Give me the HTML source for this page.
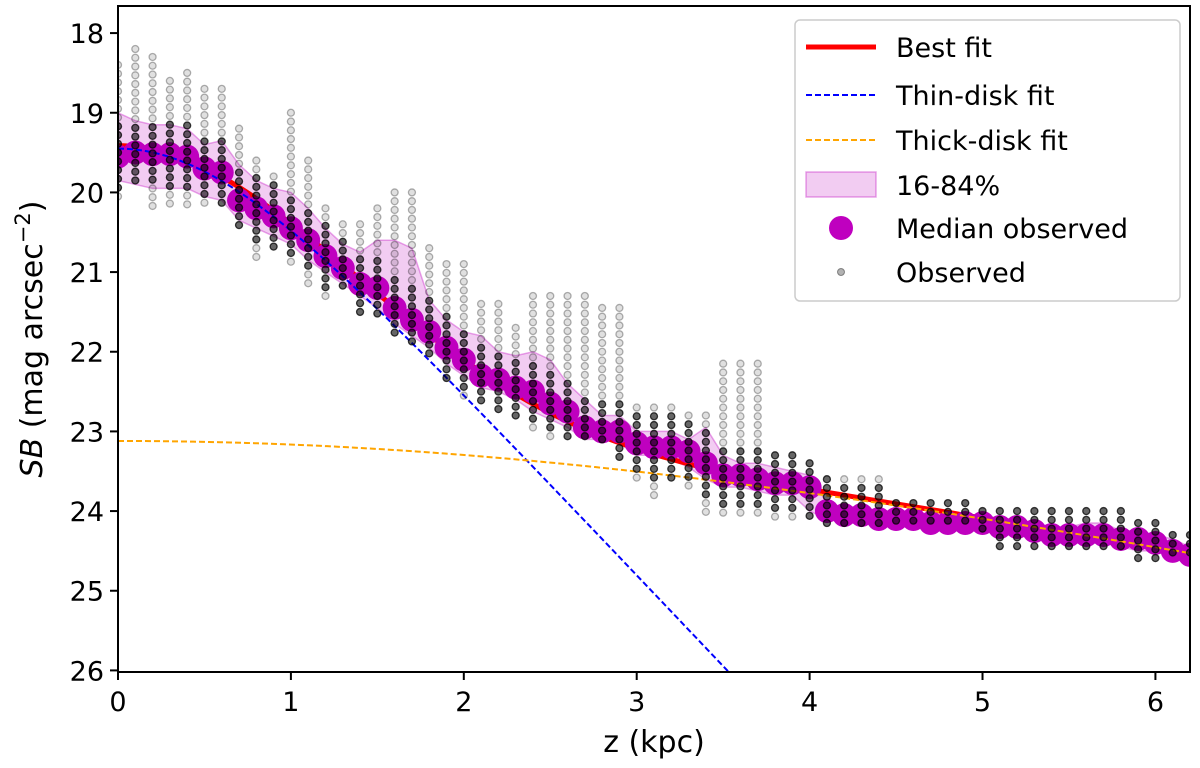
<!DOCTYPE html>
<html><head><meta charset="utf-8"><style>
html,body{margin:0;padding:0;background:#fff;overflow:hidden;width:1200px;height:768px;}
svg{display:block;overflow:hidden;}
svg text{font-family:"DejaVu Sans","Liberation Sans",sans-serif;fill:#000;}
</style></head><body>
<svg id="chart" width="1200" height="768" xmlns="http://www.w3.org/2000/svg">
<defs><clipPath id="plotclip"><rect x="118" y="6" width="1072" height="666"/></clipPath></defs>
<g id="plot" clip-path="url(#plotclip)"></g>
<rect x="118" y="6" width="1072" height="666" fill="none" stroke="#000" stroke-width="2"/>
<g id="axes"></g>
<text x="654" y="752" font-size="30" text-anchor="middle">z (kpc)</text>
<text transform="translate(42,339) rotate(-90)" font-size="30" text-anchor="middle"><tspan font-style="italic">SB</tspan> (mag arcsec<tspan dy="-12" font-size="21">−2</tspan><tspan dy="12">)</tspan></text>
<g>
<rect x="795" y="20" width="385" height="281" rx="5" fill="#fff" fill-opacity="0.85" stroke="#ccc" stroke-width="1.5"/>
<g><line x1="806" y1="47" x2="876" y2="47" stroke="#ff0000" stroke-width="5"/><text x="896" y="57" font-size="27">Best fit</text></g>
<g><line x1="806" y1="95" x2="876" y2="95" stroke="#0000ff" stroke-width="2" stroke-dasharray="6,3"/><text x="896" y="105" font-size="27">Thin-disk fit</text></g>
<g><line x1="806" y1="140" x2="876" y2="140" stroke="#ffa500" stroke-width="2" stroke-dasharray="6,3"/><text x="896" y="150" font-size="27">Thick-disk fit</text></g>
<g><rect x="806" y="172" width="70" height="25" fill="rgba(191,0,191,0.2)" stroke="rgba(191,0,191,0.35)" stroke-width="1.5"/><text x="896" y="195" font-size="27">16-84%</text></g>
<g><circle cx="841" cy="228" r="12" fill="#bf00bf"/><text x="896" y="238" font-size="27">Median observed</text></g>
<g><circle cx="841" cy="272" r="3.5" fill="rgba(0,0,0,0.3)" stroke="rgba(0,0,0,0.4)"/><text x="896" y="282" font-size="27">Observed</text></g>
</g>
</svg>
<script>
const zVals = [0,0.1,0.2,0.3,0.4,0.5,0.6,0.7,0.8,0.9,1.0,1.1,1.2,1.3,1.4,1.5,1.6,1.7,1.8,1.9,2.0,2.1,2.2,2.3,2.4,2.5,2.6,2.7,2.8,2.9,3.0,3.1,3.2,3.3,3.4,3.5,3.6,3.7,3.8,3.9,4.0,4.1,4.2,4.3,4.4,4.5,4.6,4.7,4.8,4.9,5.0,5.1,5.2,5.3,5.4,5.5,5.6,5.7,5.8,5.9,6.0,6.1,6.2];
const medianSB = [19.55,19.5,19.52,19.52,19.55,19.7,19.75,20.1,20.2,20.3,20.45,20.6,20.8,20.95,21.15,21.2,21.45,21.6,21.75,21.95,22.1,22.3,22.35,22.45,22.5,22.65,22.75,22.95,23.0,23.0,23.15,23.2,23.2,23.25,23.4,23.55,23.55,23.6,23.65,23.65,23.7,24.0,24.05,24.05,24.1,24.1,24.1,24.15,24.15,24.15,24.15,24.2,24.2,24.25,24.3,24.3,24.3,24.3,24.35,24.35,24.4,24.5,24.55];
const bandTop = [19.0,19.1,19.15,19.15,19.2,19.4,19.35,19.65,19.85,19.95,20.0,20.2,20.45,20.65,20.75,20.6,20.6,20.7,21.35,21.6,21.75,21.8,22.0,22.05,22.0,22.1,22.4,22.6,22.8,22.8,23.0,23.0,23.0,23.1,22.95,23.3,23.4,23.4,23.45,23.5,23.55,23.9,23.95,23.95,24.0,24.0,24.0,24.05,24.05,24.05,24.05,24.1,24.1,24.15,24.2,24.2,24.15,24.15,24.25,24.25,24.3,24.35,24.45];
const bandBot = [19.85,19.9,19.95,19.95,19.95,20.05,20.1,20.35,20.45,20.55,20.65,20.85,21.0,21.15,21.3,21.45,21.65,21.8,21.95,22.15,22.3,22.45,22.5,22.6,22.75,22.85,22.95,23.1,23.1,23.15,23.3,23.3,23.35,23.45,23.6,23.7,23.7,23.75,23.8,23.8,24.0,24.1,24.15,24.15,24.15,24.15,24.15,24.2,24.2,24.2,24.25,24.25,24.3,24.35,24.4,24.4,24.4,24.4,24.45,24.5,24.5,24.6,24.65];
const obsTop = [18.4,18.2,18.3,18.6,18.5,18.7,18.7,19.2,19.6,19.8,19.0,19.6,20.2,20.4,20.4,20.2,20.0,20.0,20.7,20.9,20.9,21.4,21.4,21.7,21.3,21.3,21.3,21.3,21.45,21.45,22.7,22.7,22.7,22.8,22.8,22.15,22.15,22.15,23.3,23.3,23.4,23.6,23.6,23.6,23.6,23.9,23.9,23.9,23.9,23.9,24.0,24.0,24.0,24.0,24.0,24.0,24.0,24.0,24.0,24.15,24.15,24.3,24.3];
const obsBot = [20.1,19.9,20.2,20.2,20.2,20.2,20.2,20.5,20.9,20.7,20.9,21.2,21.3,21.2,21.5,21.6,21.8,21.9,22.1,22.4,22.6,22.7,22.8,22.9,23.0,23.1,23.1,23.1,23.1,23.4,23.6,23.8,23.6,23.7,24.1,24.1,24.1,24.1,24.1,24.1,24.1,24.2,24.2,24.2,24.2,24.2,24.2,24.2,24.2,24.2,24.25,24.5,24.5,24.5,24.5,24.5,24.5,24.5,24.5,24.6,24.6,24.6,24.6];
const thinMu0 = 19.45, thinH = 0.95;
const thickMu0 = 23.12, thickH = 4.9;
const xTicks = [0,1,2,3,4,5,6];
const yTicks = [18,19,20,21,22,23,24,25,26];

const X0=118, X1=1190, Y0=6, Y1=672, ZMAX=6.2, SBTOP=17.66, SBBOT=26.02;
function xs(z){return X0+(z/ZMAX)*(X1-X0);}
function ys(s){return Y0+(s-SBTOP)/(SBBOT-SBTOP)*(Y1-Y0);}
const NS='http://www.w3.org/2000/svg';
const plot=document.getElementById('plot'), axes=document.getElementById('axes');
function mk(tag,attrs,parent){const e=document.createElementNS(NS,tag);for(const k in attrs)e.setAttribute(k,attrs[k]);parent.appendChild(e);return e;}
function sech(mu0,h,z){return mu0+5*Math.log10(Math.cosh(z/h));}

let d='';
zVals.forEach((z,i)=>{d+=(i?'L':'M')+xs(z)+','+ys(bandTop[i]);});
for(let i=zVals.length-1;i>=0;i--)d+='L'+xs(zVals[i])+','+ys(bandBot[i]);
const band=mk('path',{d:d+'Z',fill:'rgba(191,0,191,0.2)',stroke:'rgba(191,0,191,0.35)','stroke-width':1.5},plot);



function curve(fn,attrs){let p='';for(let k=0;k<=200;k++){const z=ZMAX*k/200;p+=(k?'L':'M')+xs(z)+','+ys(fn(z));}
 return mk('path',Object.assign({d:p,fill:'none'},attrs),plot);}
const best=curve(z=>-2.5*Math.log10(Math.pow(10,-0.4*sech(thinMu0,thinH,z))+Math.pow(10,-0.4*sech(thickMu0,thickH,z))),{stroke:'#ff0000','stroke-width':5});



zVals.forEach((z,i)=>{const c=mk('circle',{cx:xs(z),cy:ys(medianSB[i]),r:12,fill:'#bf00bf'},plot);

});

const thin=curve(z=>sech(thinMu0,thinH,z),{stroke:'#0000ff','stroke-width':2,'stroke-dasharray':'6,3'});


const thick=curve(z=>sech(thickMu0,thickH,z),{stroke:'#ffa500','stroke-width':2,'stroke-dasharray':'6,3'});



zVals.forEach((z,i)=>{
  for(let s=obsTop[i];s<=obsBot[i]+0.001;s+=0.11){
    const near=Math.abs(s-medianSB[i])<0.4;
    const c=mk('circle',{cx:xs(z),cy:ys(s),r:3.5,fill:near?'rgba(0,0,0,0.6)':'rgba(0,0,0,0.12)',stroke:near?'rgba(0,0,0,0.75)':'rgba(0,0,0,0.3)','stroke-width':1.3},plot);
    
    
  }
});

xTicks.forEach(t=>{const x=xs(t);mk('line',{x1:x,y1:Y1,x2:x,y2:Y1+8,stroke:'#000','stroke-width':2},axes);
 const tx=mk('text',{x:x,y:Y1+39,'font-size':27,'text-anchor':'middle'},axes);tx.textContent=t;
 
 });
yTicks.forEach(t=>{const y=ys(t);mk('line',{x1:X0-8,y1:y,x2:X0,y2:y,stroke:'#000','stroke-width':2},axes);
 const tx=mk('text',{x:X0-14,y:y+10,'font-size':27,'text-anchor':'end'},axes);tx.textContent=t;
 
 });
</script>
</body></html>
